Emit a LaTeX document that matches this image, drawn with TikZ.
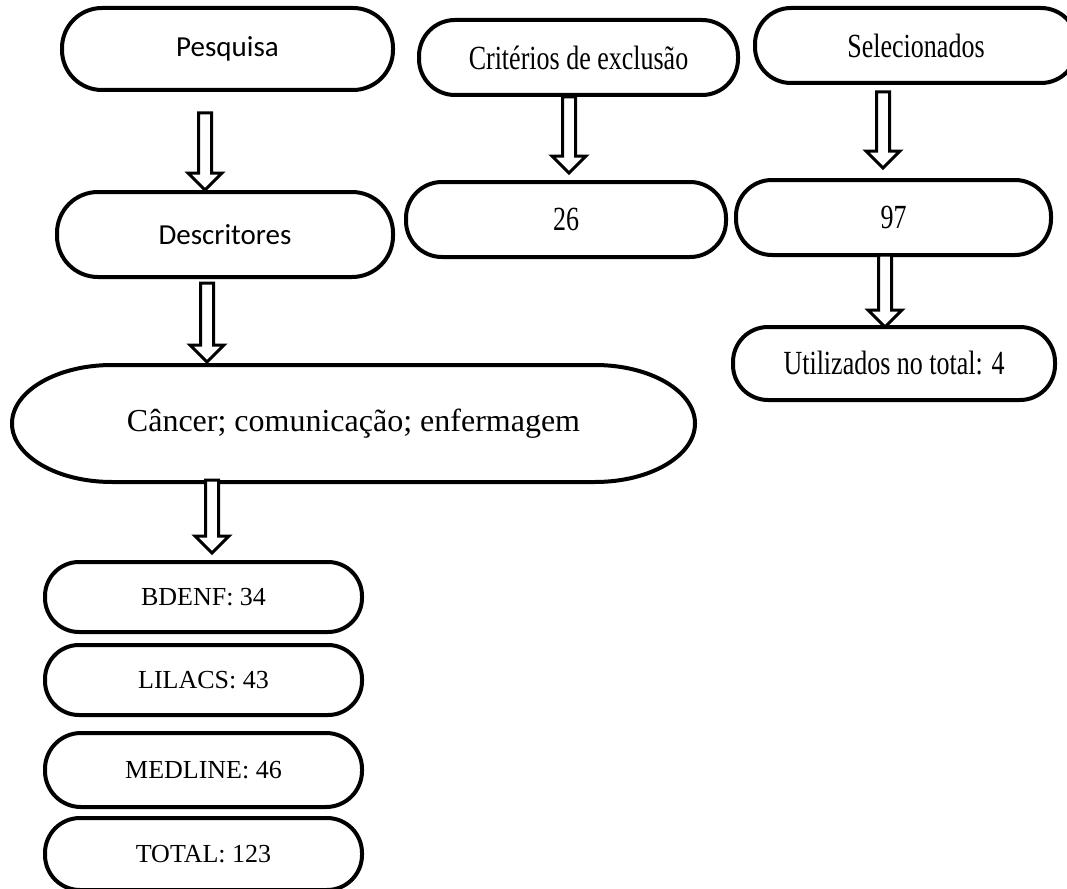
\documentclass[tikz,border=0pt]{standalone}
\usepackage{fontspec}
\setmainfont{Liberation Serif}
\newfontfamily\calibri{Carlito}
\usetikzlibrary{calc}

\newcommand{\tallbox}[1]{\scalebox{1}[1.3]{#1}}
\newcommand{\hollowarrow}[2]{%
  \draw[hollow] let \p1=(#1), \p2=(#2) in
    (\x1-6.5pt,\y1) -- (\x1-6.5pt,\y2+17pt) -- (\x1-17pt,\y2+17pt) -- (\x1,\y2)
    -- (\x1+17pt,\y2+17pt) -- (\x1+6.5pt,\y2+17pt) -- (\x1+6.5pt,\y1) -- cycle;}

\begin{document}
\begin{tikzpicture}[x=1pt,y=-1pt,
  pill/.style={draw, line width=4pt, rounded corners=36pt, inner sep=0pt, font=\fontsize{26}{30}\selectfont},
  sans/.style={font=\calibri\fontsize{29}{34}\selectfont},
  hollow/.style={draw, fill=white, line width=3pt, line join=miter}]
\useasboundingbox (0,0) rectangle (1067,888);
\node[pill, sans, rounded corners=40pt, minimum width=331pt, minimum height=82pt] (pesq) at (227.5,49) {Pesquisa};
\node[pill, sans, rounded corners=41pt, minimum width=336pt, minimum height=85pt] (desc) at (225,234.5) {Descritores};
\node[pill, draw=none, outer sep=0pt, minimum width=683pt, minimum height=117pt, font=\fontsize{32}{38}\selectfont] (canc) at (353.5,423.5) {Câncer; comunicação; enfermagem};
\node[pill, minimum width=319pt, minimum height=75pt] (crit) at (578.5,57.5) {\tallbox{Critérios de exclusão}};
\node[pill, minimum width=320pt, minimum height=75pt] (n26) at (566,219.5) {\tallbox{26}};
\node[pill, minimum width=322pt, minimum height=75pt] (sel) at (916,45.5) {\tallbox{Selecionados}};
\node[pill, minimum width=315pt, minimum height=75pt] (n97) at (893.5,217.5) {\tallbox{97}};
\node[pill, rounded corners=35pt, minimum width=322pt, minimum height=73pt] (util) at (894,363.5) {\tallbox{Utilizados no total: 4}};
\node[pill, rounded corners=34pt, minimum width=317pt, minimum height=70pt] (bdenf) at (203.5,597) {BDENF: 34};
\node[pill, rounded corners=34pt, minimum width=317pt, minimum height=70pt] (lilacs) at (203.5,680) {LILACS: 43};
\node[pill, minimum width=317pt, minimum height=74pt] (medline) at (203.5,770) {MEDLINE: 46};
\node[pill, rounded corners=35pt, minimum width=317pt, minimum height=72pt] (total) at (203.5,854) {TOTAL: 123};
\draw[line width=4pt] ([xshift=100pt]canc.north west) -- ([xshift=-100pt]canc.north east)
  arc[start angle=90, end angle=-90, x radius=100pt, y radius=58.5pt]
  -- ([xshift=100pt]canc.south west)
  arc[start angle=270, end angle=90, x radius=100pt, y radius=58.5pt] -- cycle;
\hollowarrow{[xshift=-22.5pt,yshift=-21pt]pesq.south}{desc.north}
\hollowarrow{[xshift=-18pt,yshift=-4pt]desc.south}{[yshift=3pt]canc.north}
\hollowarrow{[xshift=-141.5pt,yshift=2pt]canc.south}{[yshift=7pt]bdenf.north}
\hollowarrow{[xshift=-9.5pt]crit.south}{[yshift=7pt]n26.north}
\hollowarrow{[xshift=-33pt,yshift=-7pt]sel.south}{[yshift=10pt]n97.north}
\hollowarrow{[xshift=-8.5pt,yshift=2pt]n97.south}{[yshift=-2pt]util.north}
\end{tikzpicture}
\end{document}
